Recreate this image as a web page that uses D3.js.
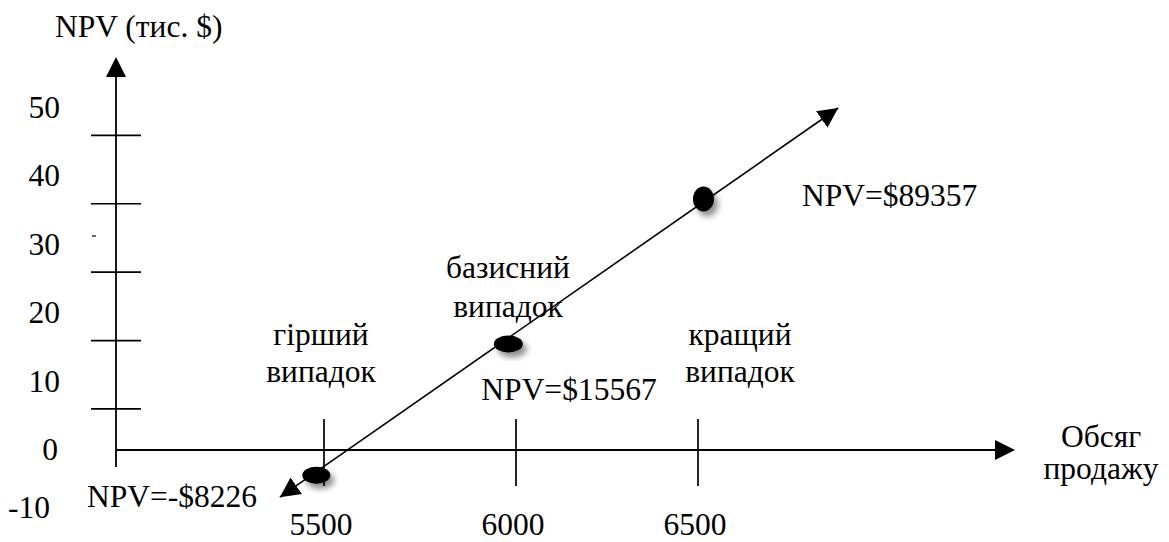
<!DOCTYPE html>
<html>
<head>
<meta charset="utf-8">
<script src="https://cdn.jsdelivr.net/npm/d3@7"></script>
<style>
  html, body { margin: 0; padding: 0; background: #fff; }
  svg { display: block; }
  text { font-family: "Liberation Serif", "Times New Roman", serif; font-size: 31.5px; fill: #000; }
</style>
</head>
<body>
<svg id="chart" width="1169" height="542"></svg>
<script>
// ---------- data ----------
const yAxisTitle = "NPV (тис. $)";
const xAxisTitle = ["Обсяг", "продажу"];
const yTickLabels = [-10, 0, 10, 20, 30, 40, 50];
const yTickMarks = [6, 16, 26, 36, 46];
const xTickLabels = [5500, 6000, 6500];
const scenarioNames = [["гірший", "випадок"], ["базисний", "випадок"], ["кращий", "випадок"]];
const scenarioSales = [5480, 5980, 6515];
const scenarioNpvPlot = [-3.7, 15.5, 36.7];
const npvLabels = ["NPV=-$8226", "NPV=$15567", "NPV=$89357"];
const trendSales = [5385, 6885];
const trendNpv = [-6.9, 50];

// ---------- layout ----------
const svg = d3.select("#chart");
const x = d3.scaleLinear().domain([5500, 6000, 6500]).range([324, 516, 698]);
const y = d3.scaleLinear().domain([0, 50]).range([450, 108]);
const axisX0 = 116;

const defs = svg.append("defs");
const f = defs.append("filter").attr("id", "shadow")
  .attr("x", "-50%").attr("y", "-50%").attr("width", "200%").attr("height", "200%");
f.append("feGaussianBlur").attr("in", "SourceAlpha").attr("stdDeviation", 3).attr("result", "b");
f.append("feOffset").attr("in", "b").attr("dx", 4).attr("dy", 5).attr("result", "o");
f.append("feComponentTransfer").attr("in", "o").attr("result", "o2")
  .append("feFuncA").attr("type", "linear").attr("slope", 0.45);
const m = f.append("feMerge");
m.append("feMergeNode").attr("in", "o2");
m.append("feMergeNode").attr("in", "SourceGraphic");

defs.append("marker").attr("id", "arr")
  .attr("viewBox", "0 0 20 20").attr("refX", 20).attr("refY", 10)
  .attr("markerWidth", 20).attr("markerHeight", 20)
  .attr("markerUnits", "userSpaceOnUse").attr("orient", "auto-start-reverse")
  .append("path").attr("d", "M0,0 L20,10 L0,20 Z").attr("fill", "#000");

// y axis
const yTop = 57, yBottom = 467;
svg.append("line").attr("x1", axisX0).attr("x2", axisX0).attr("y1", yBottom).attr("y2", yTop + 10)
  .attr("stroke", "#000").attr("stroke-width", 1.8);
svg.append("path").attr("d", `M${axisX0},${yTop} L${axisX0 - 10},${yTop + 20} L${axisX0 + 10},${yTop + 20} Z`).attr("fill", "#000");

// x axis
const xRight = 1015;
svg.append("line").attr("x1", axisX0).attr("x2", xRight - 10).attr("y1", y(0)).attr("y2", y(0))
  .attr("stroke", "#000").attr("stroke-width", 1.8);
svg.append("path").attr("d", `M${xRight},${y(0)} L${xRight - 20},${y(0) - 10} L${xRight - 20},${y(0) + 10} Z`).attr("fill", "#000");

// y tick marks
svg.selectAll(".ytm").data(yTickMarks).join("line")
  .attr("x1", axisX0 - 25).attr("x2", axisX0 + 25)
  .attr("y1", d => y(d)).attr("y2", d => y(d))
  .attr("stroke", "#000").attr("stroke-width", 1.7);

// stray dash near 30
svg.append("line").attr("x1", 92).attr("x2", 96).attr("y1", 236).attr("y2", 236)
  .attr("stroke", "#000").attr("stroke-width", 1.2);

// y tick labels
svg.selectAll(".ytl").data(yTickLabels).join("text")
  .attr("text-anchor", "end")
  .attr("x", d => d < 0 ? 50 : (d === 0 ? 58 : 60))
  .attr("y", d => d < 0 ? 518 : y(d) + 10)
  .text(d => d);

// x tick marks
svg.selectAll(".xtm").data(xTickLabels).join("line")
  .attr("x1", d => x(d)).attr("x2", d => x(d))
  .attr("y1", y(0) - 31).attr("y2", y(0) + 36)
  .attr("stroke", "#000").attr("stroke-width", 1.7);

// x tick labels
svg.selectAll(".xtl").data(xTickLabels).join("text")
  .attr("text-anchor", "middle")
  .attr("x", d => x(d) - 3).attr("y", 535)
  .text(d => d);

// axis titles
svg.append("text").attr("x", 55).attr("y", 37).text(yAxisTitle);
svg.selectAll(".xat").data(xAxisTitle).join("text")
  .attr("text-anchor", "middle").attr("x", 1101)
  .attr("y", (d, i) => 447 + i * 32).text(d => d);

// trend line
const line = d3.line().x(d => x(d[0])).y(d => y(d[1]));
svg.append("path").datum(d3.zip(trendSales, trendNpv))
  .attr("d", line).attr("fill", "none").attr("stroke", "#000").attr("stroke-width", 1.6)
  .attr("marker-start", "url(#arr)").attr("marker-end", "url(#arr)");

// points
const pointSize = [[14, 8.5], [14.5, 8.5], [10.5, 12.5]];
svg.selectAll(".pt").data(scenarioSales.map((s, i) => ({ s, v: scenarioNpvPlot[i], i }))).join("ellipse")
  .attr("cx", d => x(d.s)).attr("cy", d => y(d.v))
  .attr("rx", d => pointSize[d.i][0]).attr("ry", d => pointSize[d.i][1])
  .attr("fill", "#000").attr("filter", "url(#shadow)");

// scenario names
const nameLayout = [
  { x: 321, y: 345, sp: 37 },
  { x: 508, y: 278, sp: 39 },
  { x: 740, y: 345, sp: 37 }
];
scenarioNames.forEach((lines, i) => {
  svg.selectAll(".sn" + i).data(lines).join("text")
    .attr("text-anchor", "middle")
    .attr("x", nameLayout[i].x)
    .attr("y", (d, j) => nameLayout[i].y + j * nameLayout[i].sp)
    .text(d => d);
});

// NPV labels
const npvLayout = [
  { x: 87, y: 507, a: "start" },
  { x: 569, y: 400, a: "middle" },
  { x: 802, y: 206, a: "start" }
];
svg.selectAll(".npv").data(npvLabels).join("text")
  .attr("text-anchor", (d, i) => npvLayout[i].a)
  .attr("x", (d, i) => npvLayout[i].x)
  .attr("y", (d, i) => npvLayout[i].y)
  .text(d => d);
</script>
</body>
</html>
